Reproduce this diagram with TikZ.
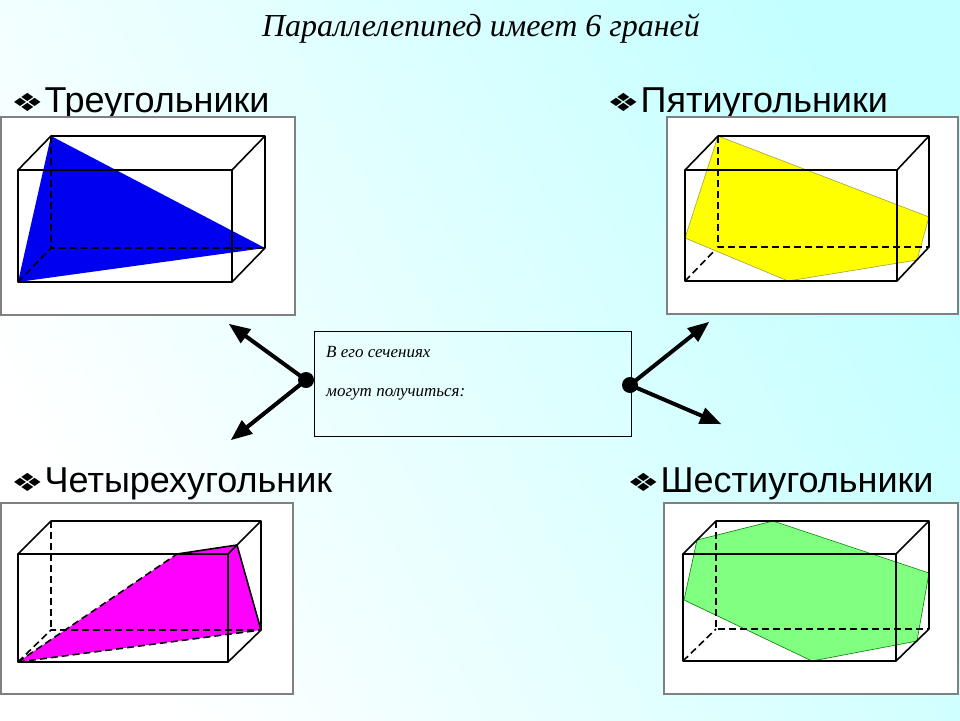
\documentclass[tikz,border=0pt]{standalone}
\usepackage{fontspec}
\setmainfont{Liberation Serif}
\newfontfamily\labelfont{Liberation Sans}
\newfontfamily\symbfont{DejaVu Sans}
\usepackage{tikz}
\usetikzlibrary{arrows,positioning}

\definecolor{bgcyan}{RGB}{196,255,255}
\definecolor{framegray}{RGB}{128,128,128}
\definecolor{triblue}{RGB}{0,0,240}
\definecolor{pentyellow}{RGB}{255,255,0}
\definecolor{quadmagenta}{RGB}{255,0,255}
\definecolor{hexgreen}{RGB}{128,255,128}

\newcommand{\bulletmark}{\raisebox{1pt}{\scalebox{1.45}[1]{\symbfont\fontsize{25}{28}\selectfont ❖}}\hspace{1pt}}

\begin{document}
\begin{tikzpicture}[x=1pt,y=-1pt,>=triangle 45,
				frame box/.style={draw=framegray,fill=white,line width=1.5pt},
				solid edge/.style={draw=black,line width=1.6pt,line join=round},
				hidden edge/.style={solid edge,dash pattern=on 7pt off 4pt},
				shape label/.style={anchor=base west,inner sep=0pt,font=\labelfont\fontsize{36}{40}\selectfont},
				box text/.style={anchor=base west,inner sep=0pt,font=\itshape\fontsize{17}{19}\selectfont},
				end dot/.style={circle,fill=black,inner sep=0pt,minimum size=16pt},
				big arrow/.style={->,line width=4pt}]
				
				\useasboundingbox (0,0) rectangle (960,720);
				\shade[top color=bgcyan,bottom color=white,shading angle=-62] (0,0) rectangle (960,720);
				
				% title
				\node (title) at (481,29) {\itshape\fontsize{32}{36}\selectfont Параллелепипед имеет 6 граней};
				
				% labels
				\node[shape label] (tri label) at (11,112) {\bulletmark Треугольники};
				\node[shape label] (pent label) at (607,112) {\bulletmark Пятиугольники};
				\node[shape label] (quad label) at (11,492) {\bulletmark Четырехугольник};
				\node[shape label] (hex label) at (627,492) {\bulletmark Шестиугольники};
				
				% frames
				\path[frame box] (1,117) rectangle (295,315);
				\path[frame box] (667,117) rectangle (958,314);
				\path[frame box] (1,503) rectangle (293,694);
				\path[frame box] (664,503) rectangle (958,694);
				
				% triangle
				\fill[triblue] (51,136) -- (265,248) -- (18,282) -- cycle;
				\draw[solid edge] (18,170) rectangle (232,282);
				\draw[solid edge] (18,170) -- (51,136) -- (265,136) -- (232,170);
				\draw[solid edge] (265,136) -- (265,248) -- (232,282);
				\draw[hidden edge] (18,282) -- (51,248) -- (265,248);
				\draw[hidden edge] (51,136) -- (51,248);
				
				% pentagon
				\draw[hidden edge] (685,281) -- (718,247);
				\filldraw[fill=pentyellow,draw=black!40!yellow,line width=0.6pt]
				(718,136) -- (929,217) -- (917,260) -- (788,281) -- (685,238) -- cycle;
				\draw[solid edge] (685,170) rectangle (897,281);
				\draw[solid edge] (685,170) -- (718,136) -- (929,136) -- (897,170);
				\draw[solid edge] (929,136) -- (929,247) -- (897,281);
				\draw[hidden edge] (718,136) -- (718,247) -- (929,247);
				
				% quadrilateral
				\fill[quadmagenta] (18,662) -- (177,554) -- (237,545) -- (261,630) -- cycle;
				\draw[solid edge] (18,554) rectangle (228,662);
				\draw[solid edge] (18,554) -- (51,521) -- (261,521) -- (228,554);
				\draw[solid edge] (261,521) -- (261,630) -- (228,662);
				\draw[solid edge] (177,554) -- (237,545) -- (261,630);
				\draw[hidden edge] (18,662) -- (51,630) -- (261,630);
				\draw[hidden edge] (51,521) -- (51,630);
				\draw[hidden edge] (18,662) -- (177,554);
				\draw[hidden edge] (18,662) -- (261,630);
				
				% hexagon
				\draw[hidden edge] (683,661) -- (716,629);
				\filldraw[fill=hexgreen,draw=black!50!green,line width=0.6pt]
				(697,540) -- (773,521) -- (929,573) -- (917,641) -- (812,661) -- (684,600) -- cycle;
				\draw[solid edge] (683,554) rectangle (896,661);
				\draw[solid edge] (683,554) -- (716,521) -- (929,521) -- (896,554);
				\draw[solid edge] (929,521) -- (929,629) -- (896,661);
				\draw[hidden edge] (716,521) -- (716,629) -- (929,629);
				
				% centre box
				\node[draw,line width=0.8pt,minimum width=317pt,minimum height=105pt,inner sep=0pt] (sections) at (472.5,383.5) {};
				\node[box text] (line one) at (326,357) {В его сечениях};
				\node[box text] (line two) at (326,396) {могут получиться:};
				
				\node[end dot] (left dot) at (306,380) {};
				\node[end dot] (right dot) at (630,385) {};
				\coordinate (tri end) at (229,324);
				\coordinate (quad end) at (231,440);
				\coordinate (pent end) at (709,322);
				\coordinate (hex end) at (721,424);
				
				\draw[big arrow] (left dot.center) -- (tri end);
				\draw[big arrow] (left dot.center) -- (quad end);
				\draw[big arrow] (right dot.center) -- (pent end);
				\draw[big arrow] (right dot.center) -- (hex end);
				
\end{tikzpicture}
\end{document}
